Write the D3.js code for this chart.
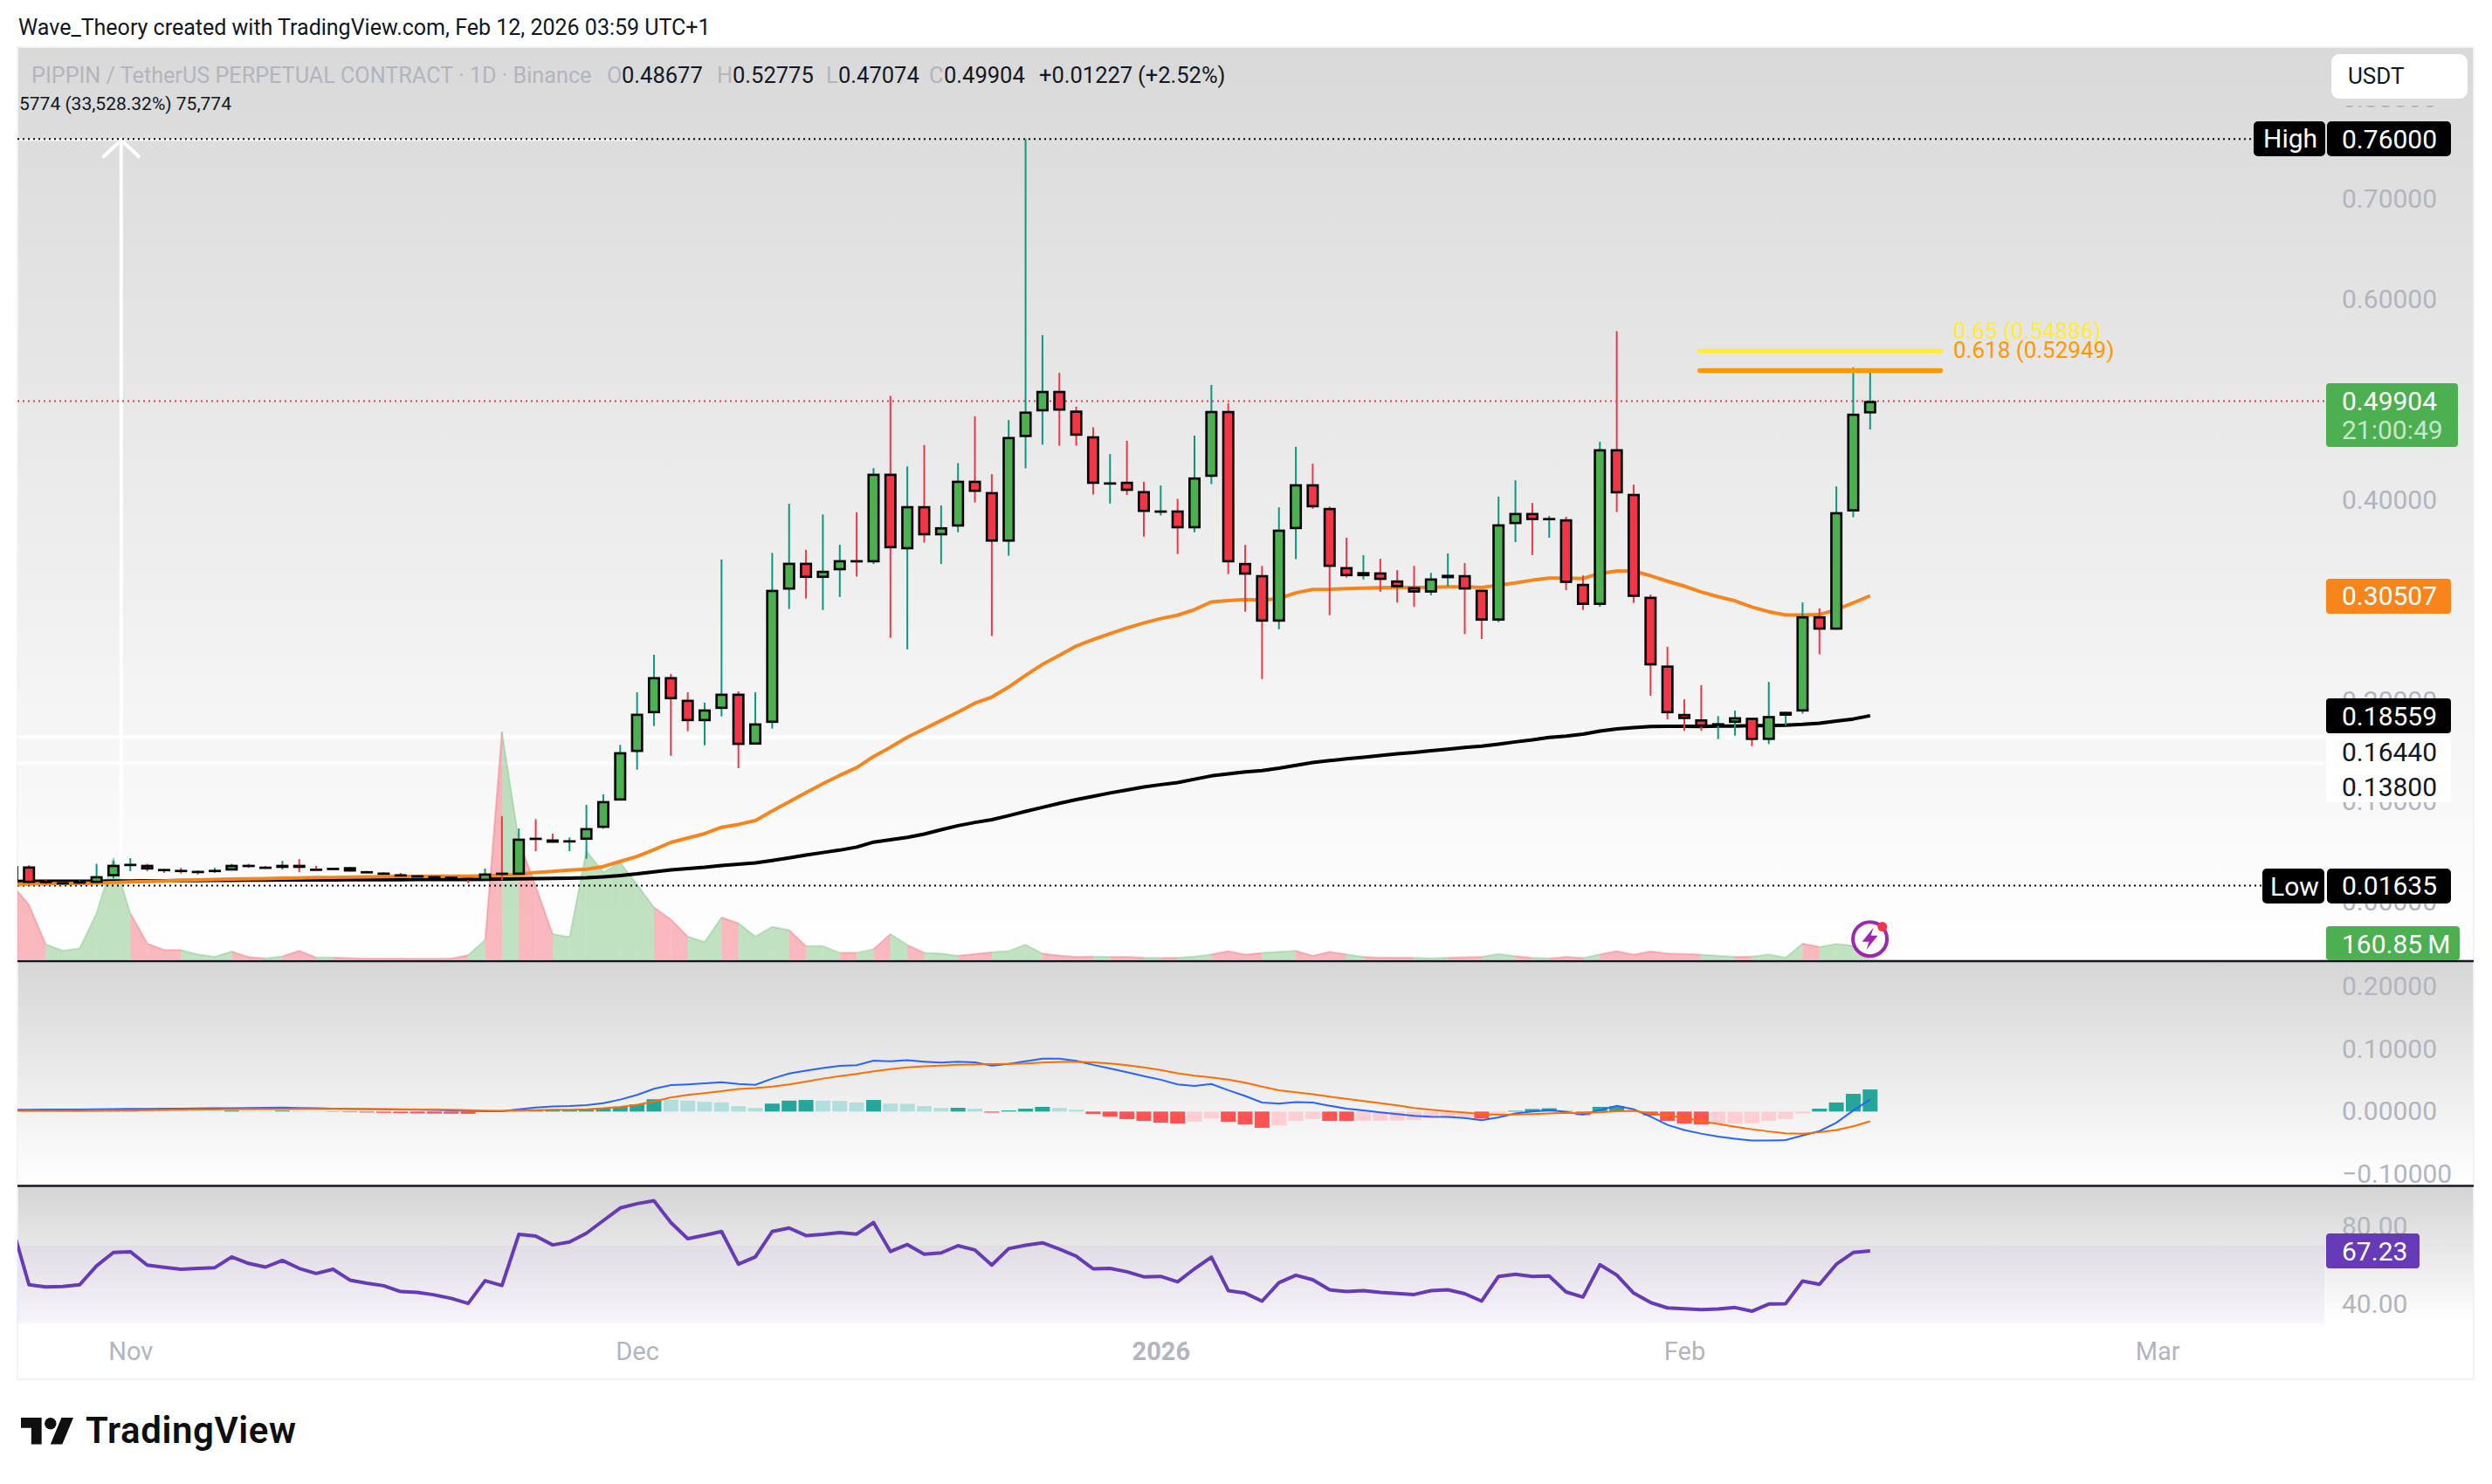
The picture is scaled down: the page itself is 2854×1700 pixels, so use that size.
<!DOCTYPE html>
<html>
<head>
<meta charset="utf-8">
<script src="https://cdn.jsdelivr.net/npm/d3@7"></script>
<style>
html,body{margin:0;padding:0;background:#fff;}
svg{display:block;font-family:Roboto,"Open Sans",sans-serif;}
</style>
</head>
<body>
<svg id="chart" width="2854" height="1700"></svg>
<script>
// daily bars, first one is 25 Oct 2025 (only its edge is visible), last one 12 Feb 2026
const firstDay = Date.UTC(2025, 9, 25);

const opens = [
.0357,.0354,.0210,.0195,.0200,.0191,.0257,.0370,.0370,.0329,
.0320,.0305,.0315,.0314,.0370,.0352,.0340,.0370,.0332,.0325,
.0347,.0307,.0293,.0276,.0266,.0258,.0252,.0240,.0211,.0292,
.0272,.0640,.0623,.0600,.0620,.0739,.1011,.1495,.1881,.2240,
.2014,.1802,.1924,.2075,.1568,.1785,.3112,.3379,.3229,.3305,
.3405,.3384,.4266,.3514,.3943,.3653,.3740,.4196,.4083,.3590,
.4632,.4888,.5091,.4895,.4639,.4165,.4186,.4093,.3885,.3900,
.3723,.4236,.4891,.3377,.3256,.2793,.3715,.4161,.3925,.3336,
.3246,.3283,.3203,.3136,.3083,.3226,.3256,.3110,.2803,.3765,
.3875,.3815,.3812,.3169,.2960,.4510,.4065,.3040,.2355,.1873,
.1819,.1756,.1785,.1835,.1615,.1856,.1898,.2846,.2713,.3891,
.48677];
const highs = [
.0370,.0367,.0220,.0200,.0215,.0380,.0414,.0437,.0380,.0329,
.0340,.0315,.0340,.0380,.0380,.0360,.0410,.0427,.0360,.0340,
.0350,.0310,.0296,.0290,.0268,.0260,.0255,.0246,.0333,.0855,
.0733,.0826,.0681,.0643,.0968,.1072,.1565,.2089,.2463,.2272,
.2089,.1985,.3412,.2098,.2089,.3478,.3967,.3508,.3860,.3558,
.3883,.4322,.5041,.4339,.4552,.3950,.4372,.4838,.4262,.4801,
.7600,.5647,.5271,.4935,.4728,.4462,.4595,.4186,.4149,.4016,
.4645,.5151,.4968,.3557,.3349,.3932,.4534,.4367,.3938,.3629,
.3456,.3419,.3306,.3349,.3279,.3472,.3376,.3110,.4038,.4201,
.3975,.3845,.3838,.3253,.4584,.5687,.4158,.3063,.2543,.2019,
.2160,.1852,.1906,.1835,.2193,.1894,.2984,.2926,.4140,.5326,
.52775];
const lows = [
.0200,.0180,.0175,.0190,.0190,.0185,.0234,.0307,.0307,.0290,
.0284,.0274,.0290,.0313,.0340,.0340,.0324,.0298,.0320,.0325,
.0304,.0300,.0285,.0260,.0258,.0250,.0235,.0188,.0211,.0217,
.0272,.0507,.0591,.0507,.0431,.0730,.1011,.1318,.1753,.1457,
.1701,.1562,.1849,.1333,.1568,.1728,.2919,.3023,.2909,.3039,
.3242,.3367,.2630,.2517,.3580,.3367,.3683,.3980,.2650,.3450,
.4319,.4555,.4545,.4545,.4060,.3969,.4056,.3640,.3850,.3467,
.3683,.4163,.3267,.2893,.2221,.2717,.3416,.3918,.2857,.3233,
.3213,.3090,.2983,.2940,.3056,.3146,.2670,.2620,.2787,.3585,
.3456,.3629,.3106,.2910,.2940,.3885,.2980,.2055,.1819,.1706,
.1706,.1623,.1657,.1553,.1573,.1761,.1877,.2468,.2713,.3833,
.47074];
const closes = [
.0214,.0191,.0205,.0197,.0205,.0257,.0370,.0380,.0324,.0325,
.0317,.0310,.0320,.0370,.0352,.0350,.0370,.0340,.0325,.0340,
.0304,.0305,.0290,.0262,.0262,.0256,.0238,.0238,.0284,.0287,
.0631,.0635,.0591,.0615,.0736,.1005,.1492,.1875,.2240,.2020,
.1802,.1918,.2075,.1565,.1779,.3109,.3379,.3229,.3299,.3405,
.3390,.4266,.3524,.3943,.3653,.3733,.4196,.4086,.3590,.4632,
.4885,.5091,.4895,.4645,.4166,.4180,.4096,.3886,.3900,.3723,
.4229,.4891,.3384,.3261,.2793,.3709,.4161,.3932,.3339,.3246,
.3286,.3209,.3136,.3083,.3223,.3259,.3113,.2803,.3762,.3875,
.3805,.3825,.3179,.2960,.4510,.4071,.3040,.2357,.1881,.1823,
.1748,.1781,.1840,.1615,.1852,.1894,.2846,.2713,.3883,.4864,
.49904];
const volumes = [
785,574,158,92,116,486,1067,486,169,99,
99,53,28,84,25,11,32,92,21,21,
14,10,10,9,8,8,9,46,204,2397,
1248,773,267,236,1141,917,1018,788,549,420,
242,184,442,380,242,343,310,141,141,70,
70,109,267,152,69,61,38,57,76,88,
156,61,42,27,30,27,27,19,15,19,
30,53,88,50,69,80,91,38,80,53,
27,19,19,19,11,19,23,27,57,34,
19,11,27,15,53,88,50,84,61,57,
50,38,27,30,53,19,168,130,164,145,
160.85];
const emaFast = [
.0178,.0180,.0182,.0183,.0186,.0190,.0195,.0200,.0205,.0210,
.0215,.0220,.0224,.0228,.0231,.0234,.0237,.0240,.0243,.0245,
.0248,.0250,.0252,.0254,.0255,.0256,.0257,.0258,.0262,.0268,
.0275,.0295,.0304,.0318,.0327,.0353,.0405,.0454,.0521,.0594,
.0637,.0681,.0744,.0773,.0811,.0906,.0999,.1089,.1179,.1262,
.1339,.1449,.1542,.1642,.1725,.1808,.1892,.1981,.2041,.2141,
.2258,.2367,.2457,.2550,.2614,.2674,.2730,.2780,.2823,.2857,
.2913,.2990,.3003,.3013,.3006,.3023,.3080,.3113,.3116,.3123,
.3126,.3130,.3133,.3133,.3136,.3140,.3140,.3133,.3156,.3179,
.3206,.3226,.3226,.3223,.3273,.3299,.3296,.3250,.3196,.3146,
.3088,.3042,.3000,.2938,.2892,.2859,.2859,.2863,.2913,.2980,
.30507];
const emaSlow = [
.0205,.0206,.0206,.0207,.0207,.0208,.0209,.0210,.0211,.0212,
.0213,.0214,.0215,.0216,.0217,.0218,.0219,.0220,.0220,.0221,
.0222,.0222,.0223,.0223,.0224,.0224,.0225,.0225,.0226,.0228,
.0231,.0233,.0236,.0238,.0241,.0251,.0264,.0280,.0300,.0320,
.0334,.0347,.0364,.0377,.0390,.0414,.0440,.0467,.0493,.0517,
.0547,.0597,.0620,.0644,.0677,.0720,.0760,.0793,.0820,.0860,
.0903,.0943,.0983,.1020,.1053,.1086,.1116,.1146,.1169,.1189,
.1223,.1256,.1276,.1296,.1309,.1333,.1362,.1389,.1409,.1426,
.1442,.1459,.1476,.1489,.1506,.1522,.1539,.1552,.1572,.1595,
.1615,.1639,.1652,.1672,.1702,.1725,.1738,.1748,.1750,.1751,
.1749,.1752,.1752,.1757,.1757,.1761,.1769,.1781,.1802,.1823,
.18559];
const macdLine = [
.0030,.0030,.0031,.0032,.0034,.0037,.0040,.0042,.0044,.0046,
.0048,.0050,.0052,.0055,.0058,.0061,.0064,.0058,.0052,.0048,
.0044,.0040,.0036,.0032,.0028,.0024,.0020,.0012,.0006,.0006,
.0035,.0064,.0081,.0087,.0104,.0133,.0191,.0266,.0364,.0422,
.0434,.0451,.0468,.0440,.0428,.0526,.0607,.0654,.0694,.0729,
.0740,.0815,.0804,.0821,.0798,.0781,.0798,.0787,.0735,.0763,
.0804,.0844,.0844,.0810,.0746,.0688,.0630,.0567,.0509,.0434,
.0411,.0440,.0341,.0249,.0145,.0127,.0150,.0145,.0093,.0046,
.0017,-.0012,-.0040,-.0069,-.0081,-.0087,-.0104,-.0139,-.0093,-.0029,
.0000,.0023,-.0006,-.0046,.0023,.0093,.0035,-.0081,-.0214,-.0295,
-.0353,-.0399,-.0434,-.0463,-.0463,-.0457,-.0382,-.0312,-.0179,.0017,
.0191];
const signalLine = [
.0010,.0010,.0011,.0012,.0013,.0015,.0017,.0020,.0023,.0026,
.0029,.0032,.0034,.0036,.0038,.0040,.0041,.0042,.0042,.0042,
.0041,.0040,.0038,.0036,.0034,.0031,.0028,.0023,.0016,.0012,
.0017,.0023,.0029,.0029,.0035,.0052,.0075,.0110,.0162,.0226,
.0266,.0295,.0324,.0359,.0376,.0399,.0434,.0480,.0526,.0567,
.0601,.0642,.0677,.0706,.0723,.0735,.0746,.0752,.0758,.0763,
.0769,.0781,.0792,.0798,.0787,.0769,.0740,.0706,.0665,.0613,
.0573,.0544,.0509,.0463,.0399,.0341,.0307,.0278,.0237,.0202,
.0168,.0133,.0098,.0058,.0029,.0006,-.0017,-.0040,-.0052,-.0046,
-.0040,-.0029,-.0023,-.0023,-.0012,.0006,.0012,-.0029,-.0064,-.0098,
-.0156,-.0197,-.0243,-.0283,-.0318,-.0347,-.0353,-.0330,-.0295,-.0237,
-.0156];
const histogram = [
.0002,.0002,.0002,.0003,.0005,.0012,.0018,.0022,.0018,.0016,
.0014,.0012,.0010,.0016,.0012,.0010,.0015,.0010,.0006,-.0005,
-.0010,-.0015,-.0020,-.0025,-.0030,-.0033,-.0035,-.0036,-.0002,.0002,
.0012,.0018,.0020,.0025,.0035,.0055,.0075,.0115,.0197,.0190,
.0174,.0156,.0145,.0087,.0058,.0127,.0174,.0185,.0174,.0170,
.0145,.0185,.0127,.0125,.0087,.0058,.0060,.0046,-.0017,.0017,
.0046,.0075,.0058,.0029,-.0040,-.0081,-.0121,-.0150,-.0179,-.0191,
-.0162,-.0110,-.0162,-.0208,-.0260,-.0220,-.0150,-.0121,-.0150,-.0152,
-.0150,-.0148,-.0146,-.0133,-.0110,-.0098,-.0090,-.0110,-.0058,.0012,
.0040,.0052,.0023,-.0058,.0075,.0087,.0017,-.0064,-.0150,-.0191,
-.0208,-.0191,-.0190,-.0188,-.0150,-.0121,-.0029,.0046,.0145,.0283,
.0353];
const rsiValues = [
80.0,49.8,48.7,48.9,49.8,59.5,66.4,66.8,59.9,58.8,
57.8,58.2,58.6,64.1,60.8,58.9,62.3,58.2,55.6,57.8,
52.2,50.6,49.3,46.3,45.9,44.6,42.8,40.2,51.9,49.4,
75.7,74.8,70.3,71.8,76.3,82.8,89.3,91.5,93.0,81.8,
73.5,75.3,77.2,60.4,64.1,77.2,79.0,75.1,75.7,76.6,
75.9,81.8,66.9,70.5,65.5,66.2,69.9,67.7,59.9,68.4,
70.1,71.4,68.2,64.5,58.0,58.2,56.5,53.9,54.1,51.3,
58.0,64.0,46.8,45.5,41.4,50.9,54.7,52.4,47.2,46.3,
46.8,45.9,45.3,44.8,46.8,47.2,45.2,41.4,54.1,55.2,
54.1,54.3,46.1,43.5,60.1,54.8,45.5,40.7,37.9,37.5,
37.0,37.3,38.1,36.2,39.9,40.1,51.7,50.0,60.4,66.4,
67.23];

const priceTicks = [0.8,0.7,0.6,0.5,0.4,0.3,0.2,0.1,0];
const macdTicks = [0.2,0.1,0,-0.1];
const rsiTicks = [80,40];
const monthTicks = [[Date.UTC(2025,10,1),"Nov"],[Date.UTC(2025,11,1),"Dec"],[Date.UTC(2026,0,1),"2026"],[Date.UTC(2026,1,1),"Feb"],[Date.UTC(2026,2,1),"Mar"]];
const highPrice = 0.76, lowPrice = 0.01635, lastPrice = 0.49904;
const fibLevels = [[0.54886,"0.65 (0.54886)","#ffeb3b"],[0.52949,"0.618 (0.52949)","#ff9800"]];
const whiteLevels = [0.1644,0.138];
const fibStart = Date.UTC(2026,1,1,22), fibEnd = Date.UTC(2026,1,16,4);
const arrowDay = Date.UTC(2025,9,31,11);

const dayMs = 864e5;
const bars = opens.map((o,i)=>({t:firstDay+i*dayMs,o,h:highs[i],l:lows[i],c:closes[i],v:volumes[i],fast:emaFast[i],slow:emaSlow[i],macd:macdLine[i],sig:signalLine[i],hist:histogram[i],rsi:rsiValues[i]}));

const FONT='Roboto,"Open Sans",sans-serif', AXIS='#b2b5be', INK='#131722';
const L=20,R=2833,PLOT_R=2662,TOP=54,BOT=1580;
const MAIN_B=1101,MACD_B=1358.5,AX_X=2682;

const svg=d3.select("#chart");
const defs=svg.append("defs");
function grad(id,c1,c2){const g=defs.append("linearGradient").attr("id",id).attr("x1",0).attr("y1",0).attr("x2",0).attr("y2",1);
 g.append("stop").attr("offset",0).attr("stop-color",c1);g.append("stop").attr("offset",1).attr("stop-color",c2);}
grad("gMain","#d9d9d9","#ffffff");grad("gMacd","#d6d6d6","#ffffff");grad("gRsi","#d4d4d4","#ffffff");
defs.append("clipPath").attr("id","plot").append("rect").attr("x",L).attr("y",TOP).attr("width",PLOT_R-L).attr("height",BOT-TOP);
defs.append("clipPath").attr("id","priceAxisClip").append("rect").attr("x",2600).attr("y",121).attr("width",254).attr("height",1000);

const x=d3.scaleUtc().domain([Date.UTC(2025,9,26),Date.UTC(2026,2,1)]).range([33.2,33.2+19.345*126]);
const y=d3.scaleLinear().domain([0,0.6]).range([1033.3,343.3]);
const yVol=d3.scaleLinear().domain([0,2397]).range([1099,838]);
const yMacd=d3.scaleLinear().domain([-0.1,0.2]).range([1345,1130]);
const yRsi=d3.scaleLinear().domain([40,80]).range([1493.6,1404.5]);

// backgrounds
svg.append("rect").attr("width",2854).attr("height",1700).attr("fill","#fff");
svg.append("rect").attr("x",L).attr("y",TOP).attr("width",R-L).attr("height",MAIN_B-TOP).attr("fill","url(#gMain)");
svg.append("rect").attr("x",L).attr("y",MAIN_B).attr("width",R-L).attr("height",MACD_B-MAIN_B).attr("fill","url(#gMacd)");
svg.append("rect").attr("x",L).attr("y",MACD_B).attr("width",R-L).attr("height",1516-MACD_B).attr("fill","url(#gRsi)");
svg.append("rect").attr("x",L).attr("y",TOP).attr("width",R-L).attr("height",BOT-TOP).attr("fill","none").attr("stroke","#f0f3fa").attr("stroke-width",2);

const plot=svg.append("g").attr("clip-path","url(#plot)");

// RSI band
plot.append("rect").attr("x",L).attr("width",PLOT_R-L).attr("y",yRsi(70)).attr("height",yRsi(30)-yRsi(70)).attr("fill","rgba(126,87,194,0.06)");

// white horizontal levels
plot.selectAll(".wl").data(whiteLevels).join("line").attr("x1",L).attr("x2",PLOT_R).attr("y1",d=>y(d)).attr("y2",d=>y(d)).attr("stroke","#fff").attr("stroke-width",4);

// measure arrow
const ax=x(arrowDay);
plot.append("line").attr("x1",ax).attr("x2",ax).attr("y1",y(highPrice)).attr("y2",y(lowPrice)).attr("stroke","#fff").attr("stroke-width",4);
plot.append("path").attr("d",d3.line()([[ax-20,y(highPrice)+20],[ax,y(highPrice)+1],[ax+20,y(highPrice)+20]])).attr("fill","none").attr("stroke","#fff").attr("stroke-width",4).attr("stroke-linecap","round");

// volume area, one coloured piece per bar
const volArea=d3.area().x(d=>x(d.t)).y0(yVol(0)).y1(d=>yVol(d.v));
const volLine=d3.line().x(d=>x(d.t)).y(d=>yVol(d.v));
bars.slice(1).forEach((b,i)=>{
  const seg=[bars[i],b],col=b.c<b.o?"242,54,69":"76,175,80";
  plot.append("path").attr("d",volArea(seg)).attr("fill",`rgba(${col},0.35)`);
  plot.append("path").attr("d",volLine(seg)).attr("fill","none").attr("stroke",`rgba(${col},0.25)`).attr("stroke-width",2);
});

// dotted lines
function dotted(v,x2,color){plot.append("line").attr("x1",L).attr("x2",x2).attr("y1",y(v)).attr("y2",y(v)).attr("stroke",color).attr("stroke-width",2).attr("stroke-dasharray","2 4");}
plot.append("line").attr("x1",L).attr("x2",730).attr("y1",y(highPrice)+1).attr("y2",y(highPrice)+1).attr("stroke","#fff").attr("stroke-width",2);
dotted(highPrice,2578,"#000");
dotted(lowPrice,2590,"#000");
dotted(lastPrice,PLOT_R,"#f23645");

// moving averages
const pathLine=(key,sc)=>d3.line().x(d=>x(d.t)).y(d=>sc(d[key]));
plot.append("path").attr("d",pathLine("slow",y)(bars)).attr("fill","none").attr("stroke","#000").attr("stroke-width",4).attr("stroke-linejoin","round");
plot.append("path").attr("d",pathLine("fast",y)(bars)).attr("fill","none").attr("stroke","#f7851b").attr("stroke-width",4).attr("stroke-linejoin","round");

// fib lines
fibLevels.forEach(f=>{
  svg.append("line").attr("x1",x(fibStart)).attr("x2",x(fibEnd)).attr("y1",y(f[0])).attr("y2",y(f[0])).attr("stroke",f[2]).attr("stroke-width",5.5).attr("stroke-linecap","round");
});
svg.append("text").attr("x",2237).attr("y",379).attr("dy",".35em").attr("font-size",26).attr("fill",fibLevels[0][2]).text(fibLevels[0][1]);
svg.append("text").attr("x",2237).attr("y",401).attr("dy",".35em").attr("font-size",26).attr("fill",fibLevels[1][2]).text(fibLevels[1][1]);

// candles
const up=d=>d.c>=d.o;
plot.selectAll(".wick").data(bars).join("line").attr("x1",d=>x(d.t)).attr("x2",d=>x(d.t)).attr("y1",d=>y(d.h)).attr("y2",d=>y(d.l)).attr("stroke",d=>up(d)?"#089981":"#f23645").attr("stroke-width",2);
plot.selectAll(".body").data(bars).join("rect").attr("x",d=>x(d.t)-5.7).attr("width",11.4)
 .attr("y",d=>y(Math.max(d.o,d.c))+1.2).attr("height",d=>Math.max(0.1,Math.abs(y(d.o)-y(d.c))-2.4))
 .attr("fill",d=>up(d)?"#4caf50":"#f23645").attr("stroke","#000").attr("stroke-width",2.6);

// MACD
plot.selectAll(".hist").data(bars).join("rect").attr("x",d=>x(d.t)-8.5).attr("width",17)
 .attr("y",d=>Math.min(yMacd(0),yMacd(d.hist))).attr("height",d=>Math.abs(yMacd(d.hist)-yMacd(0)))
 .attr("fill",(d,i)=>{const p=i?bars[i-1].hist:0;return d.hist>=0?(d.hist>=p?"#26a69a":"#b2dfdb"):(d.hist<p?"#ff5252":"#ffcdd2");});
plot.append("path").attr("d",pathLine("macd",yMacd)(bars)).attr("fill","none").attr("stroke","#2962ff").attr("stroke-width",2);
plot.append("path").attr("d",pathLine("sig",yMacd)(bars)).attr("fill","none").attr("stroke","#ff6d00").attr("stroke-width",2);

// RSI
plot.append("path").attr("d",pathLine("rsi",yRsi)(bars)).attr("fill","none").attr("stroke","#673ab7").attr("stroke-width",4).attr("stroke-linejoin","round");

// pane separators
[MAIN_B,MACD_B].forEach(v=>svg.append("line").attr("x1",L).attr("x2",R).attr("y1",v).attr("y2",v).attr("stroke",INK).attr("stroke-width",2.5));

// axes
function styleAxis(g,size,fill){g.select(".domain").remove();g.selectAll("text").attr("font-family",FONT).attr("font-size",size).attr("fill",fill);}
svg.append("g").attr("clip-path","url(#priceAxisClip)").append("g").attr("transform",`translate(${AX_X},0)`).call(d3.axisRight(y).tickValues(priceTicks).tickSize(0).tickPadding(0).tickFormat(d3.format(".5f"))).call(styleAxis,30,AXIS);
svg.append("g").attr("transform",`translate(${AX_X},0)`).call(d3.axisRight(yMacd).tickValues(macdTicks).tickSize(0).tickPadding(0).tickFormat(d3.format(".5f"))).call(styleAxis,30,AXIS);
svg.append("g").attr("transform",`translate(${AX_X},0)`).call(d3.axisRight(yRsi).tickValues(rsiTicks).tickSize(0).tickPadding(0).tickFormat(d3.format(".2f"))).call(styleAxis,30,AXIS);
const tAxis=svg.append("g").attr("transform","translate(0,1548)").call(d3.axisBottom(x).tickValues(monthTicks.map(d=>d[0])).tickSize(0).tickPadding(0).tickFormat((d,i)=>monthTicks[i][1])).call(styleAxis,29,AXIS);
tAxis.selectAll("text").attr("dy",".35em").attr("font-weight",(d,i)=>monthTicks[i][1]==="2026"?700:400);

// boxes
function box(x0,x1,y0,y1,fill,r){svg.append("rect").attr("x",x0).attr("y",y0).attr("width",x1-x0).attr("height",y1-y0).attr("rx",r==null?4:r).attr("fill",fill);}
function label(tx,ty,t,fill,size){return svg.append("text").attr("x",tx).attr("y",ty).attr("dy",".36em").attr("font-size",size||30).attr("fill",fill).text(t);}
const fmt=d3.format(".5f");
// white level labels
box(2664,2807,843,881,"#fff",0);box(2664,2807,881,919,"#fff",0);
label(AX_X,861,fmt(whiteLevels[0]),INK);label(AX_X,901,fmt(whiteLevels[1]),INK);
// High
box(2581,2663,139,179,"#000",5);box(2665,2807,139,179,"#000",5);
label(2592,158,"High","#fff",30);label(AX_X,y(highPrice),fmt(highPrice),"#fff");
// last price
box(2664,2815,439,512,"#4caf50",4);
label(AX_X,459,fmt(lastPrice),"#fff");label(AX_X,492,"21:00:49","rgba(255,255,255,0.7)");
// EMA labels
box(2664,2807,663,703,"#f7851b",4);label(AX_X,y(emaFast[emaFast.length-1]),fmt(emaFast[emaFast.length-1]),"#fff");
box(2664,2807,800,840,"#000",4);label(AX_X,y(emaSlow[emaSlow.length-1]),fmt(emaSlow[emaSlow.length-1]),"#fff");
// Low
box(2591,2662,995,1035,"#000",5);box(2665,2807,995,1035,"#000",5);
label(2600,1015,"Low","#fff",30);label(AX_X,y(lowPrice),fmt(lowPrice),"#fff");
// volume
box(2664,2817,1061,1100,"#4caf50",4);label(AX_X,1081,volumes[volumes.length-1].toFixed(2)+"\u2009M","#fff");
// RSI
box(2664,2771,1413,1453,"#673ab7",4);label(AX_X,yRsi(rsiValues[rsiValues.length-1]),rsiValues[rsiValues.length-1].toFixed(2),"#fff");

// USDT button
box(2670,2826,62,113,"#fff",9);
label(2689,87,"USDT",INK,26);

// header texts
svg.append("text").attr("x",21).attr("y",31).attr("dy",".36em").attr("font-size",25).attr("fill",INK).text("Wave_Theory created with TradingView.com, Feb 12, 2026 03:59 UTC+1");
label(36,86,"PIPPIN / TetherUS PERPETUAL CONTRACT · 1D · Binance",AXIS,25.2);
const hdr=[[695,"O",AXIS],[712,"0.48677",INK],[821,"H",AXIS],[839,"0.52775",INK],[946,"L",AXIS],[960,"0.47074",INK],[1064,"C",AXIS],[1081,"0.49904",INK],[1190,"+0.01227",INK],[1303,"(+2.52%)",INK]];
hdr.forEach(h=>label(h[0],86,h[1],h[2],25.5));
label(22,118.5,"5774 (33,528.32%) 75,774",INK,21);

// lightning icon
const ic=svg.append("g").attr("transform","translate(2141.6,1075.7)");
ic.append("circle").attr("r",19.5).attr("fill","#fff").attr("stroke","#9c27b0").attr("stroke-width",4);
ic.append("path").attr("d","M4 -13 L-9 3 L-1 3 L-4 12 L9 -4 L1 -4 Z").attr("fill","#9c27b0");
ic.append("circle").attr("cx",14.2).attr("cy",-14.1).attr("r",5.5).attr("fill","#f23645");

// TradingView logo
const lg=svg.append("g").attr("transform","translate(24,1617.2) scale(1.69)").attr("fill","#0f0f0f");
lg.append("path").attr("d","M14 22H7V11H0V4h14v18zM28 22h-8l7.5-18h8L28 22z");
lg.append("circle").attr("cx",20).attr("cy",8).attr("r",4);
svg.append("text").attr("x",98).attr("y",1653).attr("font-size",42).attr("font-weight",600).attr("fill","#0f0f0f").attr("letter-spacing",0.6).text("TradingView");
</script>
</body>
</html>
